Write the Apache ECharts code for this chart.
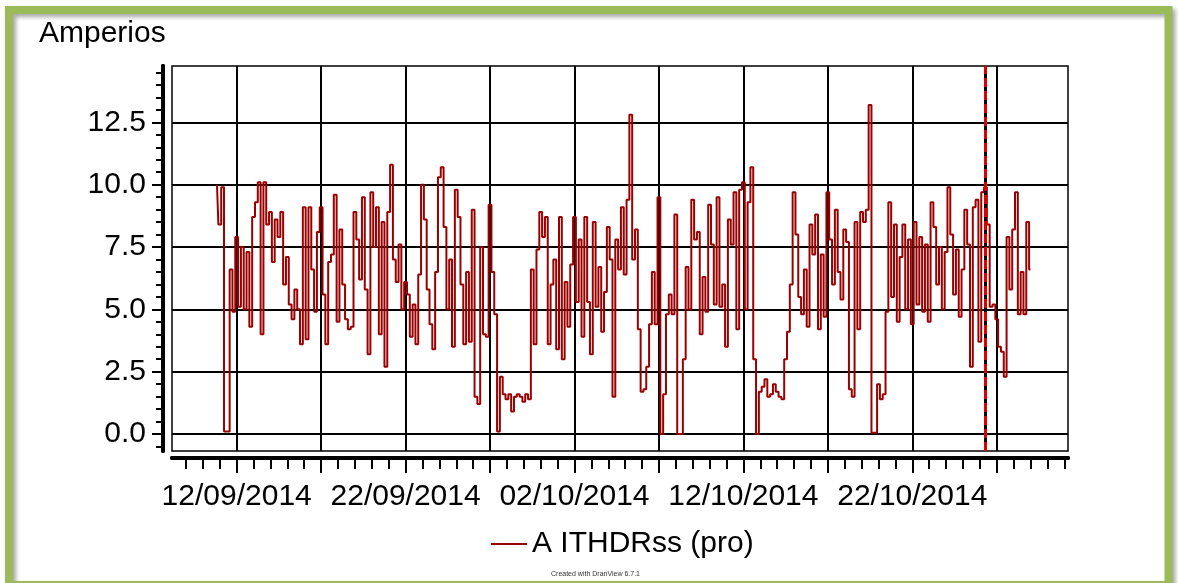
<!DOCTYPE html>
<html>
<head>
<meta charset="utf-8">
<title>A ITHDRss (pro)</title>
<script src="https://cdn.jsdelivr.net/npm/echarts@6/dist/echarts.min.js"></script>
<style>
  html, body { margin: 0; padding: 0; background: #fff; }
  #main { width: 1178px; height: 583px; }
</style>
</head>
<body>
<div id="main"></div>
<script>
// samples every 4 hours, first one 10/09/2014 20:00
var sampleStart = Date.UTC(2014, 8, 10, 20);
var sampleStepHours = 4;

var valuesSep1 = [10.0, 8.4, 9.9, 0.1, 0.1, 6.6, 4.9, 7.9, 5.1, 7.5, 5.0, 7.3, 4.3, 8.7, 9.3, 10.1,
  4.0, 10.1, 8.4, 8.9, 6.9, 8.6, 7.9, 8.9, 6.0, 7.1, 5.2, 4.6, 5.8, 5.0, 3.6, 9.1,
  3.8, 9.1, 6.6, 4.9, 8.1, 9.1, 5.6, 3.6, 6.9, 7.2, 9.6, 4.5, 8.2, 6.0, 4.6, 4.2];
var valuesSep2 = [4.3, 8.9, 7.8, 6.2, 9.5, 5.8, 3.2, 9.7, 7.5, 9.1, 4.0, 8.5, 2.7, 8.9, 10.8, 7.0,
  6.1, 7.6, 5.0, 6.1, 5.6, 3.9, 5.2, 3.6, 6.4, 10.0, 8.6, 5.8, 4.4, 3.4, 6.5, 10.3,
  10.7, 8.3, 5.0, 7.0, 3.5, 9.8, 8.7, 6.0, 3.6, 6.5, 3.7, 9.0, 1.5, 1.2, 7.5, 4.0];
var valuesOct1 = [3.9, 9.2, 6.5, 4.8, 0.1, 2.3, 1.6, 1.4, 1.6, 0.9, 1.5, 1.6, 1.5, 1.3, 1.6, 1.4,
  6.6, 3.6, 7.4, 8.9, 7.9, 8.7, 3.6, 6.0, 7.0, 3.4, 8.7, 3.0, 6.1, 4.3, 6.8, 8.7,
  5.3, 7.8, 3.9, 8.7, 5.3, 3.2, 8.5, 5.1, 6.7, 4.1, 5.7, 8.3, 7.0, 1.5, 7.8, 6.6, 9.1];
var valuesOct2 = [6.4, 9.4, 12.8, 7.0, 8.2, 4.2, 1.7, 1.8, 2.7, 4.4, 6.5, 4.4, 9.5, 0.0, 1.6, 4.8,
  5.6, 4.8, 8.8, 0.0, 0.0, 3.0, 6.7, 5.0, 9.4, 7.8, 8.1, 4.0, 6.3, 4.9, 9.2, 7.6,
  5.2, 9.5, 5.1, 6.0, 3.5, 8.6, 7.6, 9.7, 4.2, 9.8, 10.1, 5.0, 9.3, 10.7, 3.0, 0.0, 1.7];
var valuesOct3 = [1.9, 2.2, 1.5, 1.6, 2.0, 1.7, 1.5, 1.4, 3.0, 4.1, 6.0, 9.7, 8.0, 5.5, 4.8, 6.6,
  4.3, 8.4, 7.2, 8.8, 4.2, 7.2, 4.7, 9.7, 7.8, 6.0, 9.0, 6.5, 5.4, 8.2, 7.7, 1.8,
  1.5, 8.5, 4.2, 8.9, 8.5, 9.0, 13.2, 0.05, 0.05, 2.0, 1.4, 1.6, 4.9, 9.3, 5.5, 8.4, 4.5];
var valuesOct4 = [7.1, 8.4, 5.0, 7.8, 4.4, 8.5, 5.2, 7.9, 4.9, 7.6, 4.5, 9.3, 8.3, 6.0, 7.5, 5.0,
  7.3, 9.9, 8.0, 5.6, 7.4, 4.7, 6.6, 9.0, 7.6, 2.7, 9.1, 9.4, 3.7, 9.7, 9.9, 8.4,
  5.1, 5.2, 4.6, 3.5, 3.3, 2.3, 7.9, 5.8, 8.2, 9.7, 4.8, 6.5, 4.8, 8.5, 6.6];

var gridDates = ['2014-09-12', '2014-09-17', '2014-09-22', '2014-09-27', '2014-10-02',
  '2014-10-07', '2014-10-12', '2014-10-17', '2014-10-22', '2014-10-27'];
var labelDates = ['2014-09-12', '2014-09-22', '2014-10-02', '2014-10-12', '2014-10-22'];
var yTicks = [0, 2.5, 5, 7.5, 10, 12.5];
var cursorTime = '2014-10-26T07:12:00Z';
var seriesName = 'A ITHDRss (pro)';

var DAY = 86400000;
var ref = Date.UTC(2014, 8, 12);
var xMin = ref - 3.83 * DAY;
var xMax = ref + 49.22 * DAY;

var allValues = [].concat(valuesSep1, valuesSep2, valuesOct1, valuesOct2, valuesOct3, valuesOct4);
var data = allValues.map(function (v, i) {
  return [sampleStart + i * sampleStepHours * 3600000, v];
});

function toMs(s) { return Date.parse(s + 'T00:00:00Z'); }
var majorX = gridDates.map(toMs);
var labelX = labelDates.map(toMs);
var minorX = [];
for (var t = Math.ceil(xMin / DAY) * DAY; t <= xMax; t += DAY) minorX.push(t);
var minorY = [];
for (var y = -0.5; y <= 14.5; y += 0.5) minorY.push(+y.toFixed(1));

function pad(n) { return n < 10 ? '0' + n : '' + n; }
function fmtDate(v) {
  var d = new Date(v);
  return pad(d.getUTCDate()) + '/' + pad(d.getUTCMonth() + 1) + '/' + d.getUTCFullYear();
}

var font = 'Liberation Sans, Arial, sans-serif';
var chart = echarts.init(document.getElementById('main'));
var option = {
  backgroundColor: '#fff',
  animation: false,
  title: {
    text: 'Amperios',
    left: 39,
    top: 19,
    padding: 0,
    textStyle: { fontFamily: font, fontSize: 30, fontWeight: 'normal', color: '#000' }
  },
  legend: {
    data: [seriesName],
    left: 491,
    top: 529,
    padding: 0,
    icon: 'rect',
    itemWidth: 36,
    itemHeight: 2,
    textStyle: { fontFamily: font, fontSize: 30, color: '#000' }
  },
  graphic: [
    {
      type: 'rect',
      shape: { x: 9, y: 10, width: 1159.5, height: 575 },
      style: { fill: null, stroke: '#9bbb59', lineWidth: 8,
        shadowColor: 'rgba(0,0,0,0.35)', shadowBlur: 4, shadowOffsetX: 3, shadowOffsetY: 3 },
      silent: true
    },
    {
      type: 'text',
      left: 551,
      top: 571,
      style: { text: 'Created with DranView 6.7.1', fontFamily: font, fontSize: 7, fill: '#333' },
      silent: true
    }
  ],
  grid: {
    left: 172, top: 66, right: 110, bottom: 132,
    show: true, borderColor: '#000', borderWidth: 1.5, backgroundColor: '#fff'
  },
  xAxis: [
    {
      type: 'value', position: 'bottom', min: xMin, max: xMax,
      minInterval: 5 * DAY, maxInterval: 5 * DAY,
      offset: 7,
      axisLine: { show: true, onZero: false, lineStyle: { color: '#000', width: 4 } },
      axisTick: { show: true, customValues: majorX, length: 15, lineStyle: { color: '#000', width: 2 } },
      axisLabel: {
        customValues: labelX, margin: 24, color: '#000', fontFamily: font, fontSize: 30,
        formatter: fmtDate
      },
      splitLine: { show: true, lineStyle: { color: '#000', width: 2 } }
    },
    {
      type: 'value', position: 'bottom', min: xMin, max: xMax, offset: 7,
      axisLine: { show: true, onZero: false, lineStyle: { color: '#000', width: 4 } },
      axisTick: { show: true, customValues: minorX, length: 11, lineStyle: { color: '#000', width: 2 } },
      axisLabel: { show: false },
      splitLine: { show: false }
    }
  ],
  yAxis: [
    {
      type: 'value', position: 'left', min: -0.68, max: 14.76,
      minInterval: 2.5, maxInterval: 2.5,
      offset: 9,
      axisLine: { show: true, onZero: false, lineStyle: { color: '#000', width: 4 } },
      axisTick: { show: true, customValues: yTicks, length: 11, lineStyle: { color: '#000', width: 2 } },
      axisLabel: {
        customValues: yTicks, margin: 17, color: '#000', fontFamily: font, fontSize: 30,
        formatter: function (v) { return v.toFixed(1); }
      },
      splitLine: { show: true, lineStyle: { color: '#000', width: 2 } }
    },
    {
      type: 'value', position: 'left', min: -0.68, max: 14.76, offset: 9,
      axisLine: { show: true, onZero: false, lineStyle: { color: '#000', width: 4 } },
      axisTick: { show: true, customValues: minorY, length: 7, lineStyle: { color: '#000', width: 2 } },
      axisLabel: { show: false },
      splitLine: { show: false }
    }
  ],
  series: [
    {
      name: seriesName,
      type: 'line',
      xAxisIndex: 0,
      yAxisIndex: 0,
      data: data,
      step: 'middle',
      symbol: 'none',
      lineStyle: { color: '#9b0000', width: 2 },
      itemStyle: { color: '#9b0000' },
      markLine: {
        silent: true,
        symbol: 'none',
        label: { show: false },
        data: [
          { xAxis: Date.parse(cursorTime), lineStyle: { color: '#000', width: 3, type: 'solid' } },
          { xAxis: Date.parse(cursorTime), lineStyle: { color: '#e00000', width: 3, type: [9, 4] } }
        ]
      }
    }
  ]
};
chart.setOption(option);
</script>
</body>
</html>
